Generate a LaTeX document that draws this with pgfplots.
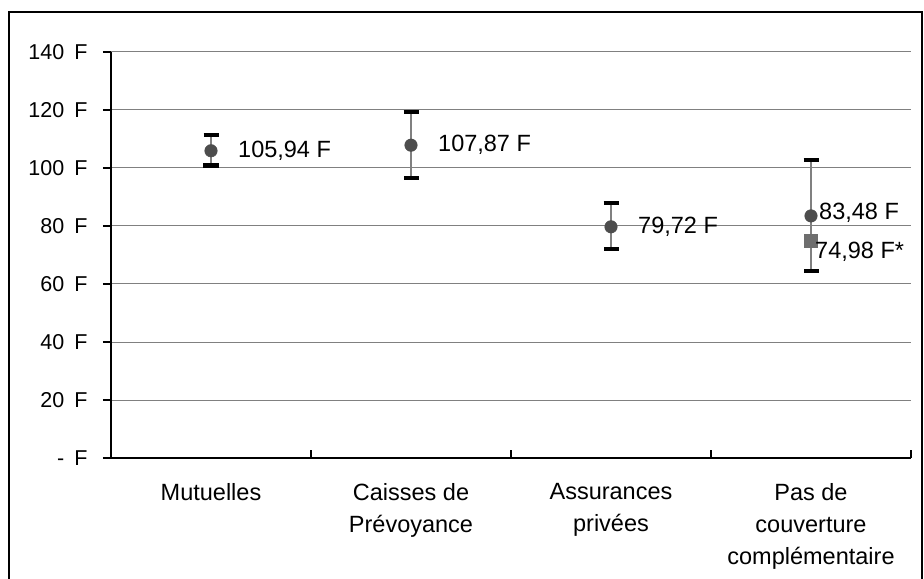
\documentclass[border=0pt]{standalone}
\usepackage{pgfplots}
\pgfplotsset{compat=1.18}
\usepackage{pgfplotstable}
\usepackage{fontspec}
\setmainfont{Liberation Sans}
\definecolor{ptdark}{HTML}{4D4D4D}
\definecolor{ptsq}{HTML}{6E6E6E}
\definecolor{gridc}{HTML}{808080}
\newcommand{\Fs}{\hspace{10bp}F}
\pgfplotstableread[col sep=semicolon]{
x;y;ep;em;lab
0.5;105.94;5.4;5.0;105,94 F
1.5;107.87;11.4;11.3;107,87 F
2.5;79.72;8.2;7.6;79,72 F
}\circdata
\pgfplotstableread[col sep=semicolon]{
x;y;ep;em;lab
3.5;83.48;19.3;19.0;83,48 F
}\circpas
\pgfplotstableread[col sep=semicolon]{
x;y;lab
3.5;74.98;74,98 F*
}\sqdata
\begin{document}
\begin{tikzpicture}
\useasboundingbox (-111bp,-121bp) rectangle (813bp,458bp);
\begin{axis}[
  at={(0,0)}, anchor=south west,
  scale only axis, width=800bp, height=406bp,
  xmin=0, xmax=4, ymin=0, ymax=140,
  axis lines=left,
  axis line style={-, black, line width=1.5bp},
  font=\fontsize{23.5bp}{31.5bp}\selectfont,
  /pgf/number format/assume math mode=true,
  ytick={0,20,...,140},
  yticklabels={-\Fs,20\Fs,40\Fs,60\Fs,80\Fs,100\Fs,120\Fs,140\Fs},
  xtick={0.5,1.5,2.5,3.5},
  xticklabels={Mutuelles,{Caisses de\\Prévoyance},{Assurances\\privées},{Pas de\\couverture\\complémentaire}},
  xticklabel style={align=center, yshift=-14bp, font=\fontsize{23.5bp}{32bp}\selectfont},
  yticklabel style={xshift=-12bp, font=\fontsize{21.5bp}{26bp}\selectfont},
  x tick style={draw=none},
  y tick style={black, line width=1.5bp},
  tick align=outside,
  major tick length=8bp,
  ymajorgrids,
  major grid style={gridc, line width=1bp},
  clip=false,
]
\addplot[only marks, mark=*, mark size=6.3bp, mark options={fill=ptdark, draw=ptdark},
  error bars/.cd, y dir=both, y explicit, error mark=|,
  error bar style={gridc, line width=1.5bp},
  error mark options={black, line width=4.7bp, mark size=7.5bp}]
  table[x=x, y=y, y error plus=ep, y error minus=em] {\circdata};
\addplot[only marks, mark=*, mark size=6.3bp, mark options={fill=ptdark, draw=ptdark},
  error bars/.cd, y dir=both, y explicit, error mark=|,
  error bar style={gridc, line width=1.5bp},
  error mark options={black, line width=4.7bp, mark size=7.5bp}]
  table[x=x, y=y, y error plus=ep, y error minus=em] {\circpas};
\addplot[only marks, mark=square*, mark size=6.5bp, mark options={fill=ptsq, draw=ptsq},
  ] table[x=x, y=y] {\sqdata};
\addplot[only marks, mark=none, nodes near coords, point meta=explicit symbolic,
  every node near coord/.append style={anchor=west, inner sep=0pt, xshift=27bp, font=\fontsize{23.5bp}{28bp}\selectfont, text=black}]
  table[x=x, y=y, meta=lab] {\circdata};
\addplot[only marks, mark=none, nodes near coords, point meta=explicit symbolic,
  every node near coord/.append style={anchor=west, inner sep=0pt, xshift=8bp, yshift=3bp, font=\fontsize{23.5bp}{28bp}\selectfont, text=black}]
  table[x=x, y=y, meta=lab] {\circpas};
\addplot[only marks, mark=none, nodes near coords, point meta=explicit symbolic,
  every node near coord/.append style={anchor=west, inner sep=0pt, xshift=4bp, yshift=-11bp, font=\fontsize{23.5bp}{28bp}\selectfont, text=black}]
  table[x=x, y=y, meta=lab] {\sqdata};
\pgfplotsinvokeforeach{1,2,3,4}{
  \draw[black, line width=1.5bp] (axis cs:#1,0) -- ++(0,8bp);
}
\end{axis}
\draw[black, line width=2bp] (-102bp,-121bp) -- (-102bp,446bp) -- (811bp,446bp) -- (811bp,-121bp);
\end{tikzpicture}
\end{document}
